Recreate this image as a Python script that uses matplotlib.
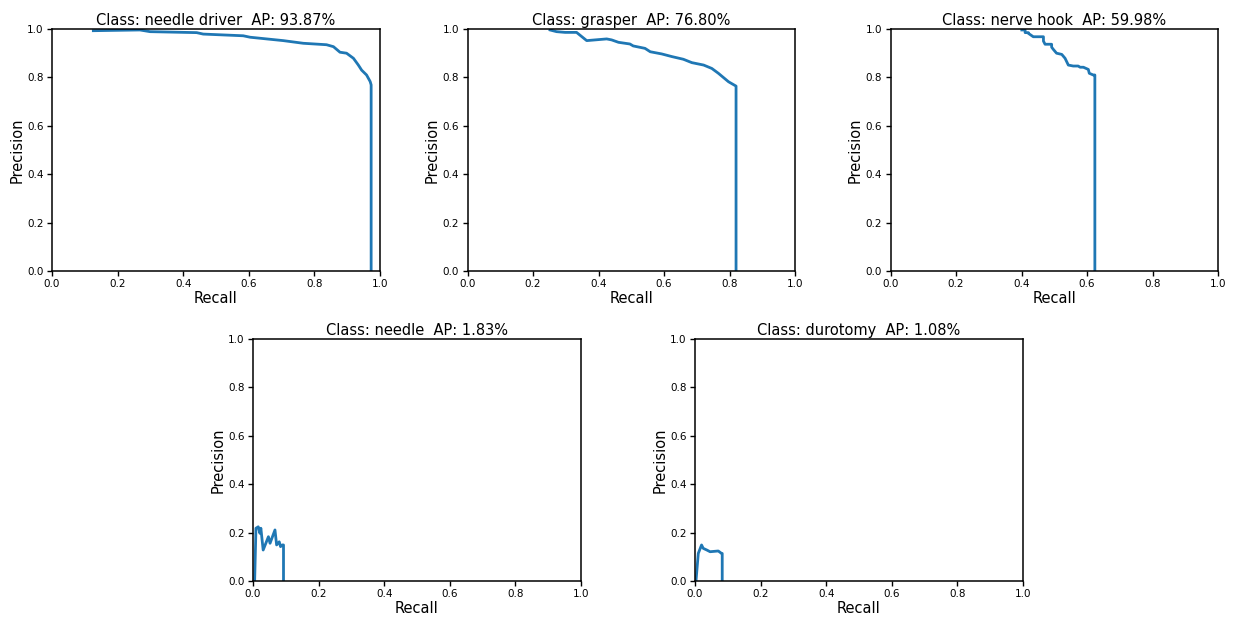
import matplotlib
matplotlib.use("Agg")
import matplotlib.pyplot as plt

W, H = 1238, 617

titles = ["needle driver", "grasper", "nerve hook", "needle", "durotomy"]
ap_values = [93.87, 76.80, 59.98, 1.83, 1.08]

needle_driver_recall = [0.126, 0.268, 0.299, 0.441, 0.461, 0.583, 0.604, 0.705, 0.766, 0.837, 0.858,
                        0.878, 0.898, 0.919, 0.934, 0.944, 0.959, 0.970, 0.973, 0.973]
needle_driver_precision = [0.993, 0.996, 0.989, 0.985, 0.979, 0.972, 0.966, 0.952, 0.941, 0.935, 0.927,
                           0.904, 0.900, 0.879, 0.851, 0.830, 0.810, 0.783, 0.769, 0.0]

grasper_recall = [0.252, 0.272, 0.298, 0.333, 0.343, 0.364, 0.425, 0.440, 0.461, 0.496, 0.506, 0.542,
                  0.558, 0.593, 0.624, 0.659, 0.685, 0.721, 0.746, 0.766, 0.797, 0.820, 0.820]
grasper_precision = [0.996, 0.989, 0.986, 0.986, 0.975, 0.952, 0.959, 0.955, 0.945, 0.938, 0.930, 0.920,
                     0.906, 0.897, 0.886, 0.875, 0.861, 0.851, 0.837, 0.817, 0.782, 0.764, 0.0]

nerve_hook_recall = [0.401, 0.411, 0.411, 0.421, 0.421, 0.436, 0.467, 0.467, 0.472, 0.492, 0.492, 0.497,
                     0.507, 0.523, 0.533, 0.543, 0.558, 0.573, 0.579, 0.589, 0.604, 0.607, 0.619, 0.624, 0.624]
nerve_hook_precision = [0.996, 0.996, 0.985, 0.985, 0.982, 0.968, 0.968, 0.950, 0.937, 0.937, 0.925, 0.916,
                        0.900, 0.895, 0.879, 0.851, 0.847, 0.847, 0.842, 0.842, 0.833, 0.817, 0.810, 0.810, 0.0]

needle_recall = [0.005, 0.009, 0.016, 0.021, 0.024, 0.031, 0.047, 0.052, 0.067, 0.072, 0.080, 0.084,
                 0.089, 0.093, 0.093]
needle_precision = [0.0, 0.218, 0.224, 0.197, 0.218, 0.128, 0.183, 0.156, 0.211, 0.149, 0.162, 0.142,
                    0.149, 0.149, 0.0]

durotomy_recall = [0.003, 0.010, 0.020, 0.025, 0.036, 0.046, 0.071, 0.081, 0.083, 0.083]
durotomy_precision = [0.0, 0.114, 0.149, 0.135, 0.128, 0.121, 0.124, 0.114, 0.114, 0.0]

series = [
    (needle_driver_recall, needle_driver_precision),
    (grasper_recall, grasper_precision),
    (nerve_hook_recall, nerve_hook_precision),
    (needle_recall, needle_precision),
    (durotomy_recall, durotomy_precision),
]

# axes boxes in pixels: left, top, right, bottom
boxes = [
    (52, 29, 380, 271),
    (467.5, 29, 795, 271),
    (890.5, 29, 1218, 271),
    (253, 339, 581, 581),
    (695, 339, 1023, 581),
]

fig = plt.figure(figsize=(W / 100, H / 100), dpi=100)
for (l, t, r, b), name, ap, (rx, py) in zip(boxes, titles, ap_values, series):
    ax = fig.add_axes([l / W, (H - b) / H, (r - l) / W, (b - t) / H])
    ax.plot(rx, py, color="#1f77b4", linewidth=2)
    ax.set_xlim(0, 1)
    ax.set_ylim(0, 1)
    ax.set_xticks([0, 0.2, 0.4, 0.6, 0.8, 1.0])
    ax.set_yticks([0, 0.2, 0.4, 0.6, 0.8, 1.0])
    ax.tick_params(labelsize=7.5, length=3.5, width=1, pad=2.5)
    for s in ax.spines.values():
        s.set_linewidth(1.1)
    ax.set_xlabel("Recall", fontsize=10.5, labelpad=1)
    ax.set_ylabel("Precision", fontsize=10.5, labelpad=2)
    ax.set_title(f"Class: {name}  AP: {ap:.2f}%", fontsize=10.5, pad=3)

fig.savefig("out.png", dpi=100)
